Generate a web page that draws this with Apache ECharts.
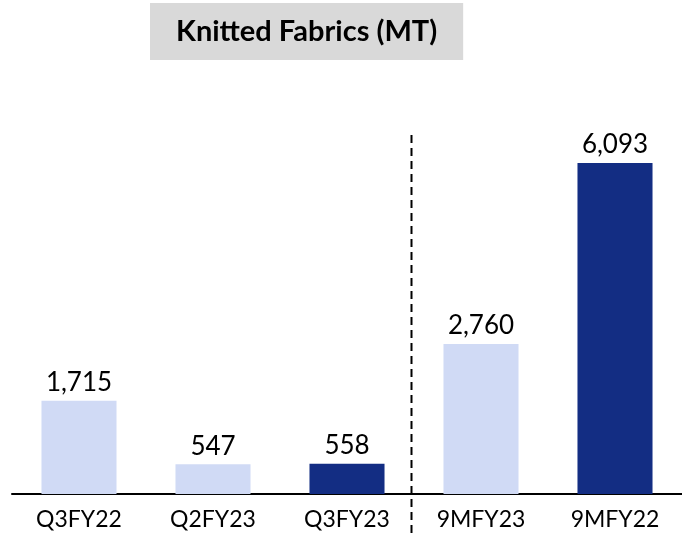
<!DOCTYPE html>
<html>
<head>
<meta charset="utf-8">
<script src="https://cdn.jsdelivr.net/npm/echarts@6/dist/echarts.min.js"></script>
<style>
  html, body { margin: 0; padding: 0; background: #fff; }
  #main { width: 682px; height: 537px; }
</style>
</head>
<body>
<div id="main"></div>
<script>
var categories = ["Q3FY22", "Q2FY23", "Q3FY23", "9MFY23", "9MFY22"];
var values = [1715, 547, 558, 2760, 6093];
var barColors = ["#d0daf5", "#d0daf5", "#132d83", "#d0daf5", "#132d83"];

var myChart = echarts.init(document.getElementById("main"));

var option = {
  animation: false,
  title: {
    text: "Knitted Fabrics (MT)",
    left: 150,
    top: 3,
    padding: [14, 26, 14, 26],
    backgroundColor: "#d9d9d9",
    textStyle: {
      fontFamily: "Lato",
      fontWeight: "bold",
      fontSize: 29,
      color: "#000"
    }
  },
  grid: {
    left: 12,
    right: 0,
    top: 130,
    bottom: 43
  },
  xAxis: {
    type: "category",
    data: categories,
    axisTick: { show: false },
    axisLine: { lineStyle: { color: "#000", width: 2 } },
    axisLabel: {
      fontFamily: "Lato",
      fontSize: 23,
      color: "#000",
      margin: 14
    }
  },
  yAxis: {
    type: "value",
    min: 0,
    max: 6700,
    show: false,
    splitLine: { show: false }
  },
  series: [
    {
      type: "bar",
      barWidth: "56%",
      data: values.map(function (v, i) {
        return { value: v, itemStyle: { color: barColors[i] } };
      }),
      label: {
        show: true,
        position: "top",
        distance: 5,
        fontFamily: "Lato",
        fontSize: 26,
        color: "#000",
        formatter: function (p) {
          return p.value.toLocaleString("en-US");
        }
      }
    }
  ]
};

option && myChart.setOption(option);

// dashed separator between quarterly and 9M groups (sits a little left of the midpoint)
var x1 = myChart.convertToPixel({ xAxisIndex: 0 }, categories[2]);
var x2 = myChart.convertToPixel({ xAxisIndex: 0 }, categories[3]);
var sepX = Math.round((x1 + x2) / 2) - 3 + 0.5;
myChart.setOption({
  graphic: [
    {
      type: "line",
      shape: { x1: sepX, y1: 135, x2: sepX, y2: 537 },
      style: { stroke: "#000", lineWidth: 2, lineDash: [8, 5] },
      z: 10
    }
  ]
});
</script>
</body>
</html>
